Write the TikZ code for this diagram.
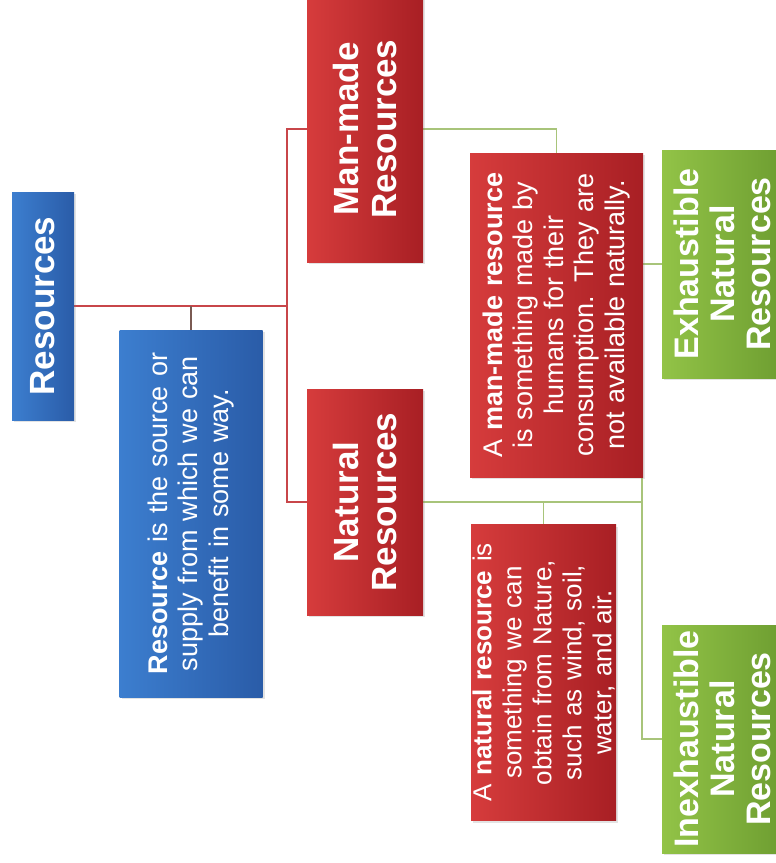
\documentclass[tikz,border=0pt]{standalone}
\usepackage{fontspec}
\setmainfont{Liberation Sans}
\usetikzlibrary{shadows,backgrounds}
\definecolor{redA}{HTML}{D63C3C}
\definecolor{redB}{HTML}{A81F24}
\definecolor{blueA}{HTML}{3C7ECF}
\definecolor{blueB}{HTML}{2A5CA8}
\definecolor{greenA}{HTML}{92C347}
\definecolor{greenB}{HTML}{6E9E31}
\definecolor{redline}{HTML}{C8464A}
\definecolor{greenline}{HTML}{A8C47A}
\definecolor{brownline}{HTML}{7A5A52}
\tikzset{
  box/.style={rotate=90, inner sep=0pt, align=center, text=white,
    drop shadow={opacity=0.22, shadow xshift=2pt, shadow yshift=-2pt}},
  redbox/.style={box, left color=redA, right color=redB},
  bluebox/.style={box, left color=blueA, right color=blueB},
  greenbox/.style={box, left color=greenA, right color=greenB},
  head/.style={font=\fontsize{35}{37.5}\selectfont\bfseries},
  greenhead/.style={font=\fontsize{34}{36}\selectfont\bfseries},
  desc/.style={font=\fontsize{27}{30.5}\selectfont},
  ndescf/.style={font=\fontsize{26}{30}\selectfont},
  redln/.style={draw=redline, line width=1.2pt},
  greenln/.style={draw=greenline, line width=1.2pt},
  brownln/.style={draw=brownline, line width=1.2pt}
}
\begin{document}
\begin{tikzpicture}[x=1pt,y=-1pt]
\useasboundingbox (0,0) rectangle (776,863);

% junction points
\coordinate (j1) at (287,306);
\coordinate (j2) at (642,502);

\path
  node[bluebox, head, minimum width=228pt, minimum height=62pt, text width=215pt] (res) at (43,306) {Resources}
  node[bluebox, desc, minimum width=367pt, minimum height=143pt, text width=350pt] (bdesc) at (191,513.5)
    {\textbf{Resource} is the source or\\supply from which we can\\benefit in some way.}
  node[redbox, head, minimum width=266pt, minimum height=116pt, text width=250pt] (man) at (365,129)
    {Man-made\\Resources}
  node[redbox, head, minimum width=226pt, minimum height=116pt, text width=215pt] (nat) at (365,502)
    {Natural\\Resources}
  node[redbox, desc, minimum width=324pt, minimum height=173pt, text width=310pt] (mdesc) at (556.5,315)
    {A \textbf{man-made resource}\\is something made by\\humans for their\\consumption. They are\\not available naturally.}
  node[redbox, ndescf, minimum width=296pt, minimum height=145pt, text width=285pt] (ndesc) at (543.5,672.5)
    {A \textbf{natural resource} is\\something we can\\obtain from Nature,\\such as wind, soil,\\water, and air.}
  node[greenbox, greenhead, minimum width=228pt, minimum height=120pt, text width=226pt] (exh) at (722,264)
    {Exhaustible\\Natural\\Resources}
  node[greenbox, greenhead, minimum width=228pt, minimum height=120pt, text width=226pt] (inex) at (722,739)
    {Inexhaustible\\Natural\\Resources};

\begin{scope}[on background layer]
  \fill[white] (0,0) rectangle (776,863);
  % red: Resources to the two kinds
  \draw[redln] (res.south) -- (j1);
  \draw[redln] (man.north) -| (j1) |- (nat.north);
  % brown stub to definition
  \draw[brownln] (bdesc.east) -- (bdesc.east |- res.south);
  % green: man-made to its description
  \draw[greenln] (man.south) -| (mdesc.east);
  % green: natural to its description and to the two kinds
  \draw[greenln] (nat.south) -- (j2);
  \draw[greenln] (ndesc.east) -- (ndesc.east |- nat.south);
  \draw[greenln] (exh.north) -| (j2) |- (inex.north);
\end{scope}
\end{tikzpicture}
\end{document}
